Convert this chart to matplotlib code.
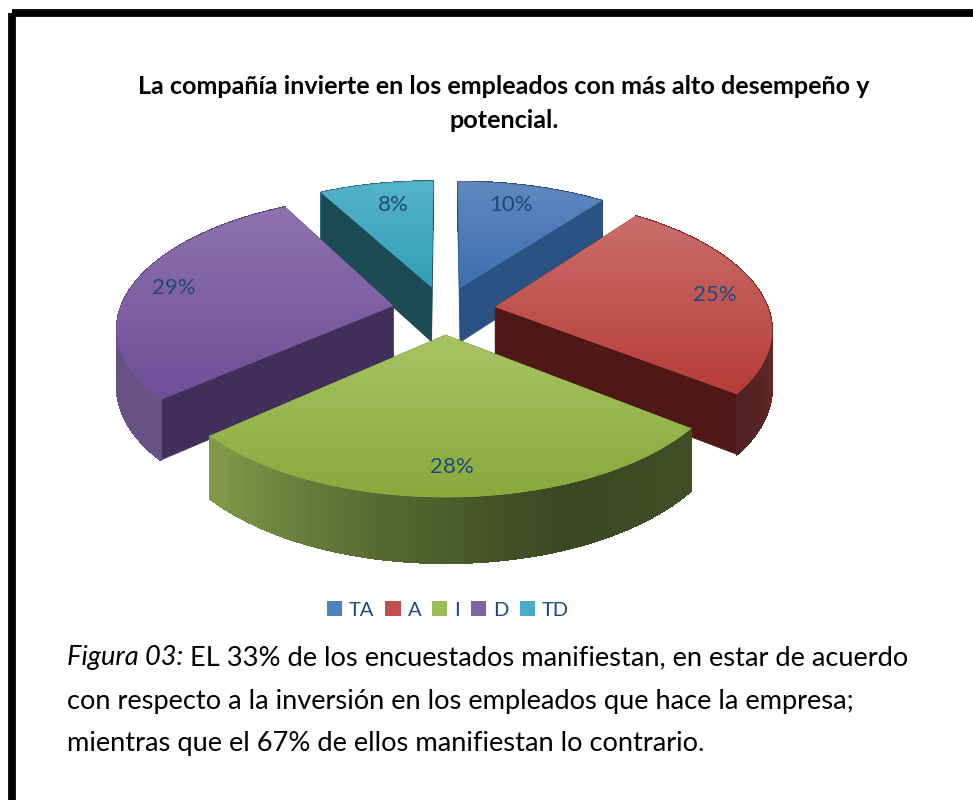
import numpy as np
import matplotlib
matplotlib.use("Agg")
import matplotlib.pyplot as plt
from matplotlib.collections import PolyCollection
from matplotlib.colors import LinearSegmentedColormap, to_rgb
from matplotlib.patches import Patch, Polygon, Rectangle

# data, the printed labels are these values rounded
labels = ["TA", "A", "I", "D", "TD"]
values = [10.3, 25.3, 27.9, 28.6, 7.9]
colors = ["#4f81bd", "#c0504d", "#9bbb59", "#8064a2", "#4bacc6"]
top_light = ["#6088c0", "#c96e6a", "#a6c463", "#8e72ae", "#55b2ca"]
top_dark = ["#3d6fb0", "#b83c38", "#88a93c", "#6f4f99", "#30a0b8"]
radial_dark = ["#2a5282", "#4f1815", "#3f4f1e", "#43305a", "#1c4a55"]

title_lines = ["La compañía invierte en los empleados con más alto desempeño y", "potencial."]
caption_lead = "Figura 03:"
caption_lines = [" EL 33% de los encuestados manifiestan, en estar de acuerdo",
                 "con respecto a la inversión en los empleados que hace la empresa;",
                 "mientras que el 67% de ellos manifiestan lo contrario."]

# light on the side wall, by angle clockwise from the top
shade_angles = [0, 60, 90, 126, 160, 190, 226, 290, 360]
shade_factor = [0.6, 0.62, 0.58, 0.42, 0.38, 0.55, 0.82, 0.8, 0.6]

# projection of the pie plane
CX, Y0 = 444, 310
RADIUS, PERSP, DIST = 273, 835, 6.5
HEIGHT = 56
EXPLODE = 0.19
LABEL_R = 0.82
LABEL_NUDGE = [(-9, 2), (3, 1), (-1, 3), (-6, 0), (8, 4)]
TEXT_BLUE = "#1f497d"


def project(x, y, z=0):
    s = DIST / (DIST + y)
    return CX + RADIUS * x * s, Y0 + PERSP * (s - 1) + z * s ** 0.8


def wedge_outline(a0, a1, ox, oy, z=0, n=80):
    t = np.radians(np.linspace(a0, a1, n))
    return project(ox + np.sin(t), oy + np.cos(t), z)


fig = plt.figure(figsize=(9.73, 8), dpi=100)
ax = fig.add_axes([0, 0, 1, 1])
ax.set_xlim(0, 973)
ax.set_ylim(800, 0)
ax.axis("off")

# page frame, only top and left fall inside the picture
ax.add_patch(Rectangle((11.5, 13), 1100, 1000, fc="none", ec="black", lw=5.6))

edges = np.concatenate([[0], np.cumsum(values)]) / sum(values) * 360
z = 3
for i in [4, 0, 3, 1, 2]:
    a0, a1 = edges[i], edges[i + 1]
    mid = np.radians((a0 + a1) / 2)
    ox, oy = EXPLODE * np.sin(mid), EXPLODE * np.cos(mid)
    base = np.array(to_rgb(colors[i]))

    # far slices show the radial wall in front of the outer wall, near ones the other way
    radial_z = z + 1 if np.cos(mid) > 0.5 else z - 1

    # outer wall in small strips so that the light can change along it
    tx, ty = wedge_outline(a0, a1, ox, oy, 0, 241)
    bx, by = wedge_outline(a0, a1, ox, oy, HEIGHT, 241)
    quads = [[(tx[k], ty[k]), (tx[k + 1], ty[k + 1]), (bx[k + 1], by[k + 1]), (bx[k], by[k])]
             for k in range(240)]
    mids = np.linspace(a0, a1, 240)
    shades = np.interp(mids, shade_angles, shade_factor)
    cols = [tuple(base * f) for f in shades]
    ax.add_collection(PolyCollection(quads, facecolors=cols, edgecolors=cols, linewidths=1.0,
                                     antialiaseds=False, zorder=z))

    # radial walls
    ax_, ay_ = project(ox, oy)
    abx, aby = project(ox, oy, HEIGHT)
    for a in (a0, a1):
        ex, ey = wedge_outline(a, a, ox, oy, n=1)
        bx, by = wedge_outline(a, a, ox, oy, HEIGHT, n=1)
        ax.add_patch(Polygon([(ax_, ay_), (ex[0], ey[0]), (bx[0], by[0]), (abx, aby)],
                             fc=radial_dark[i], ec=radial_dark[i], lw=0.5, zorder=radial_z))

    # top face with a vertical gradient
    ox_line, oy_line = wedge_outline(a0, a1, ox, oy)
    px = np.concatenate([[ax_], ox_line])
    py = np.concatenate([[ay_], oy_line])
    poly = Polygon(np.column_stack([px, py]), fc=colors[i], ec=colors[i], lw=0.3, zorder=z + 2)
    ax.add_patch(poly)
    cmap = LinearSegmentedColormap.from_list("f", [top_light[i], top_dark[i]])
    im = ax.imshow(np.linspace(0, 1, 64).reshape(-1, 1), cmap=cmap, aspect="auto",
                   extent=(px.min(), px.max(), py.max(), py.min()), zorder=z + 2.5)
    im.set_clip_path(poly)
    z += 4

# labels on the faces
for i in range(len(values)):
    mid = np.radians((edges[i] + edges[i + 1]) / 2)
    x = (EXPLODE + LABEL_R) * np.sin(mid)
    y = (EXPLODE + LABEL_R) * np.cos(mid)
    lx, ly = project(x, y)
    ax.text(lx + LABEL_NUDGE[i][0], ly + LABEL_NUDGE[i][1], f"{values[i]:.0f}%", color=TEXT_BLUE,
            fontsize=16, family="Lato", ha="center", va="center", zorder=50)

ax.set_xlim(0, 973)
ax.set_ylim(800, 0)

# title
for line, ty in zip(title_lines, [87, 120]):
    ax.text(504, ty, line, fontsize=18.1, fontweight="bold", family="Lato",
            ha="center", va="center", color="black", zorder=50)

# legend
handles = [Patch(fc=c, ec="none", label=l) for c, l in zip(colors, labels)]
leg = ax.legend(handles=handles, ncol=5, loc="center", frameon=False,
                bbox_to_anchor=(448, 610), bbox_transform=ax.transData,
                prop={"family": "Lato", "size": 14.5}, labelcolor=TEXT_BLUE,
                handlelength=0.75, handleheight=0.75, handletextpad=0.35, columnspacing=0.55)

# caption, the lead words are in italics
lead = ax.text(67, 658, caption_lead, fontsize=19.6, style="italic", family="Lato",
               ha="left", va="center", color="black", zorder=50)
fig.canvas.draw()
lead_end = lead.get_window_extent().x1
ax.text(lead_end, 658, caption_lines[0], fontsize=19.6, family="Lato",
        ha="left", va="center", color="black", zorder=50)
for line, ty in zip(caption_lines[1:], [701, 743]):
    ax.text(67, ty, line, fontsize=19.6, family="Lato", ha="left", va="center", color="black", zorder=50)

fig.savefig("out.png", dpi=100)
